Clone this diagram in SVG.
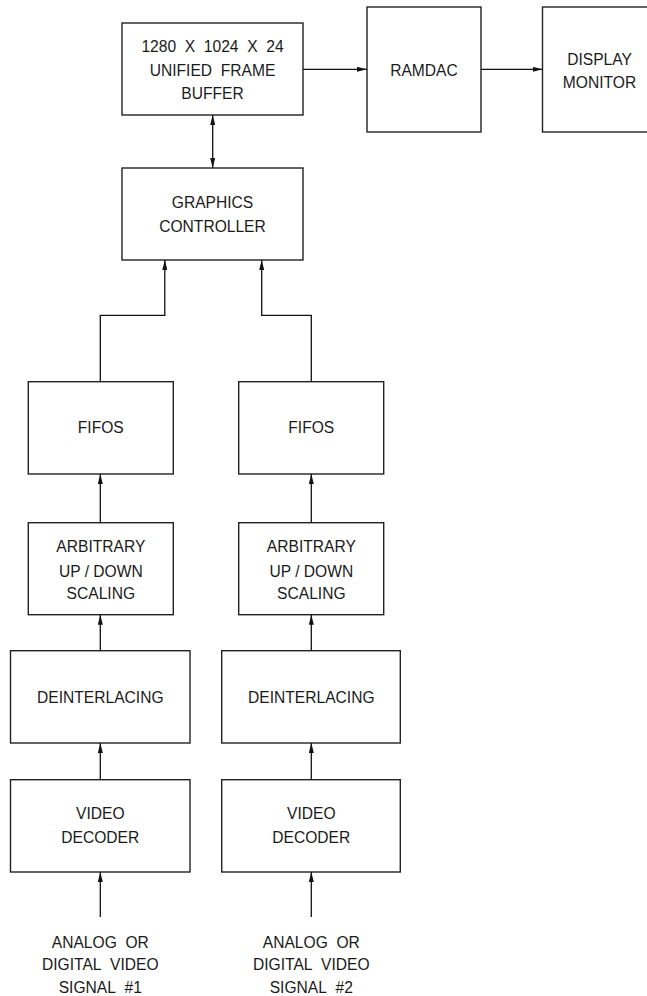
<svg xmlns="http://www.w3.org/2000/svg" width="647" height="996" viewBox="0 0 647 996">
  <style>
    .box { fill: #fff; stroke: #222; stroke-width: 1.4; }
    .wire { fill: none; stroke: #111; stroke-width: 1.3; }
    text { font-family: "Liberation Sans", Arial, sans-serif; font-size: 15.6px; fill: #1a1a1a; text-anchor: middle; }
  </style>
  <defs>
    <marker id="arrow" viewBox="0 0 10 5" refX="10" refY="2.5" markerWidth="10" markerHeight="5" markerUnits="userSpaceOnUse" orient="auto-start-reverse">
      <path d="M0,0 L10,2.5 L0,5 Z" fill="#111"/>
    </marker>
  </defs>
  <rect width="647" height="996" fill="#fff"/>

  <!-- top row -->
  <g id="frame-buffer">
    <rect class="box" x="122" y="23" width="181" height="92"/>
    <text x="212.5" y="51.7">1280&#160;&#160;X&#160;&#160;1024&#160;&#160;X&#160;&#160;24</text>
    <text x="212.5" y="75.5">UNIFIED&#160;&#160;FRAME</text>
    <text x="212.5" y="98.5">BUFFER</text>
  </g>
  <g id="ramdac">
    <rect class="box" x="367" y="7" width="114" height="125"/>
    <text x="424" y="75.5">RAMDAC</text>
  </g>
  <g id="display-monitor">
    <rect class="box" x="542.5" y="7" width="110" height="125"/>
    <text x="599.5" y="65">DISPLAY</text>
    <text x="599.5" y="88.3">MONITOR</text>
  </g>
  <g id="graphics-controller">
    <rect class="box" x="122" y="168" width="181" height="92"/>
    <text x="212.5" y="208.3">GRAPHICS</text>
    <text x="212.5" y="231.7">CONTROLLER</text>
  </g>

  <!-- channel 1 -->
  <g id="fifos-1">
    <rect class="box" x="28.3" y="381.7" width="145" height="92.3"/>
    <text x="100.8" y="432.5">FIFOS</text>
  </g>
  <g id="scaling-1">
    <rect class="box" x="28.3" y="522.7" width="145" height="92"/>
    <text x="100.8" y="552.3">ARBITRARY</text>
    <text x="100.8" y="576.5">UP / DOWN</text>
    <text x="100.8" y="599.3">SCALING</text>
  </g>
  <g id="deinterlacing-1">
    <rect class="box" x="10.5" y="650.7" width="179.5" height="92.3"/>
    <text x="100.3" y="703.3">DEINTERLACING</text>
  </g>
  <g id="decoder-1">
    <rect class="box" x="10.5" y="779.7" width="179.5" height="92.3"/>
    <text x="100.3" y="819.3">VIDEO</text>
    <text x="100.3" y="842.7">DECODER</text>
  </g>
  <g id="input-1">
    <text x="100.3" y="947.7">ANALOG&#160;&#160;OR</text>
    <text x="100.3" y="970">DIGITAL&#160;&#160;VIDEO</text>
    <text x="100.3" y="993">SIGNAL&#160;&#160;#1</text>
  </g>

  <!-- channel 2 -->
  <g id="fifos-2">
    <rect class="box" x="238.7" y="381.7" width="145" height="92.3"/>
    <text x="311.3" y="432.5">FIFOS</text>
  </g>
  <g id="scaling-2">
    <rect class="box" x="238.7" y="522.7" width="145" height="92"/>
    <text x="311.3" y="552.3">ARBITRARY</text>
    <text x="311.3" y="576.5">UP / DOWN</text>
    <text x="311.3" y="599.3">SCALING</text>
  </g>
  <g id="deinterlacing-2">
    <rect class="box" x="221.7" y="650.7" width="178.6" height="92.3"/>
    <text x="311.3" y="703.3">DEINTERLACING</text>
  </g>
  <g id="decoder-2">
    <rect class="box" x="221.7" y="779.7" width="178.6" height="92.3"/>
    <text x="311.3" y="819.3">VIDEO</text>
    <text x="311.3" y="842.7">DECODER</text>
  </g>
  <g id="input-2">
    <text x="311.3" y="947.7">ANALOG&#160;&#160;OR</text>
    <text x="311.3" y="970">DIGITAL&#160;&#160;VIDEO</text>
    <text x="311.3" y="993">SIGNAL&#160;&#160;#2</text>
  </g>

  <!-- connectors -->
  <g id="connectors">
    <line class="wire" x1="303" y1="69.3" x2="367" y2="69.3" marker-end="url(#arrow)"/>
    <line class="wire" x1="481" y1="69.3" x2="542.5" y2="69.3" marker-end="url(#arrow)"/>
    <line class="wire" x1="212.7" y1="115" x2="212.7" y2="168" marker-start="url(#arrow)" marker-end="url(#arrow)"/>

    <polyline class="wire" points="100.3,381.7 100.3,315.3 164.8,315.3 164.8,260" marker-end="url(#arrow)"/>
    <polyline class="wire" points="311.3,381.7 311.3,315.3 261.7,315.3 261.7,260" marker-end="url(#arrow)"/>

    <line class="wire" x1="100.3" y1="522.7" x2="100.3" y2="474" marker-end="url(#arrow)"/>
    <line class="wire" x1="100.3" y1="650.7" x2="100.3" y2="614.7" marker-end="url(#arrow)"/>
    <line class="wire" x1="100.3" y1="779.7" x2="100.3" y2="743" marker-end="url(#arrow)"/>
    <line class="wire" x1="100.3" y1="917" x2="100.3" y2="872" marker-end="url(#arrow)"/>

    <line class="wire" x1="311.3" y1="522.7" x2="311.3" y2="474" marker-end="url(#arrow)"/>
    <line class="wire" x1="311.3" y1="650.7" x2="311.3" y2="614.7" marker-end="url(#arrow)"/>
    <line class="wire" x1="311.3" y1="779.7" x2="311.3" y2="743" marker-end="url(#arrow)"/>
    <line class="wire" x1="311.3" y1="917" x2="311.3" y2="872" marker-end="url(#arrow)"/>
  </g>
</svg>
